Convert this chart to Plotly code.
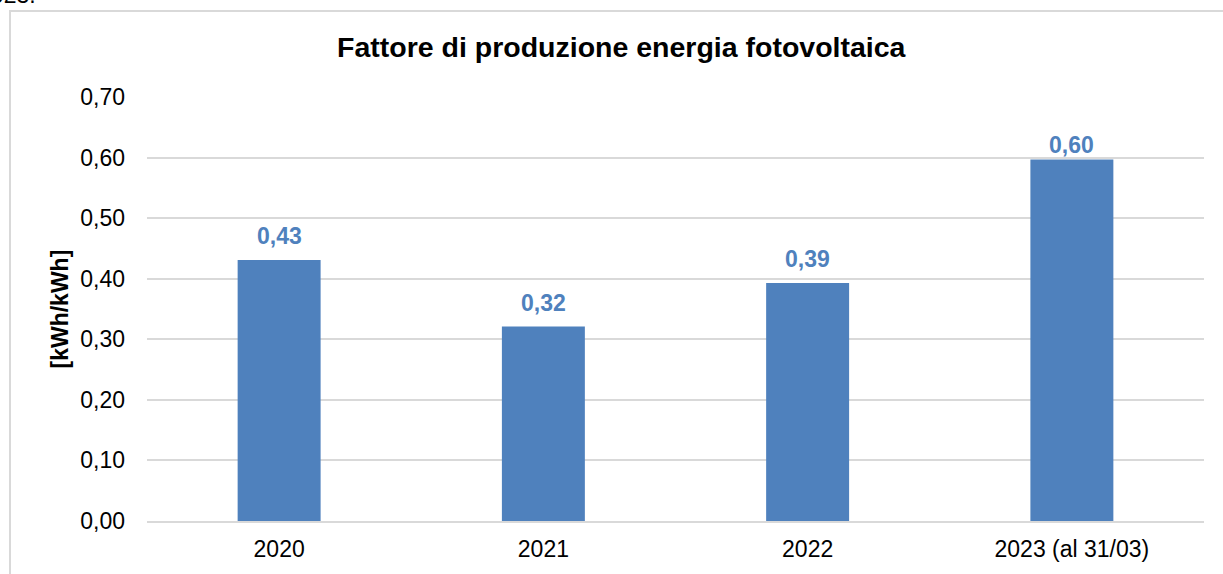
import plotly.graph_objects as go

categories = ["2020", "2021", "2022", "2023 (al 31/03)"]
values = [0.431, 0.321, 0.393, 0.597]
tick_vals = [0.0, 0.1, 0.2, 0.3, 0.4, 0.5, 0.6, 0.7]
tick_text = ["0,00", "0,10", "0,20", "0,30", "0,40", "0,50", "0,60", "0,70"]
title_text = "Fattore di produzione energia fotovoltaica"
y_title = "[kWh/kWh]"

BAR = "#4F81BD"
FONT = "Liberation Sans, Arial, sans-serif"
W, H = 1223, 574
L, R, T, B = 147, 19, 97, 53
pw, ph = W - L - R, H - T - B
YMAX = 0.7

def px_x(x):
    return (x - L) / pw

def px_y(y):
    return (H - B - y) / ph

fig = go.Figure()
fig.add_trace(go.Bar(x=categories, y=values, marker=dict(color=BAR, line=dict(width=0)),
                     hoverinfo="skip"))

annotations = []
for i, v in enumerate(values):
    bar_top = T + (YMAX - v) / YMAX * ph
    center = max(bar_top - 24, 145)
    annotations.append(dict(x=i, y=v, xref="x", yref="y", text=f"<b>{v:.2f}</b>".replace(".", ","),
                            showarrow=False, yanchor="middle", yshift=bar_top - center,
                            font=dict(family=FONT, size=23, color=BAR)))
annotations.append(dict(x=px_x(622), y=px_y(47), xref="paper", yref="paper",
                        text=f"<b>{title_text}</b>", showarrow=False, xanchor="center", yanchor="middle",
                        font=dict(family=FONT, size=28.5, color="#000000")))
annotations.append(dict(x=px_x(59.5), y=0.5, xref="paper", yref="paper", text=f"<b>{y_title}</b>",
                        textangle=-90, showarrow=False, xanchor="center", yanchor="middle",
                        font=dict(family=FONT, size=23, color="#000000")))
annotations.append(dict(x=px_x(38), y=px_y(10), xref="paper", yref="paper", text="023.",
                        showarrow=False, xanchor="right", yanchor="bottom",
                        font=dict(family=FONT, size=23, color="#000000")))

fig.update_layout(
    width=W, height=H,
    margin=dict(l=L, r=R, t=T, b=B, pad=0, autoexpand=False),
    paper_bgcolor="white", plot_bgcolor="white",
    bargap=0.686,
    showlegend=False,
    font=dict(family=FONT, size=23, color="#000000"),
    annotations=annotations,
    shapes=[dict(type="rect", xref="paper", yref="paper", x0=px_x(10), x1=px_x(1300),
                 y0=px_y(700), y1=px_y(11), line=dict(color="#D9D9D9", width=2), fillcolor="rgba(0,0,0,0)",
                 layer="below")],
    xaxis=dict(type="category", range=[-0.5, len(categories) - 0.5], showgrid=False, showline=True,
               linecolor="#D9D9D9", linewidth=2, ticks="",
               tickfont=dict(family=FONT, size=23, color="#000000"), ticklabelstandoff=6,
               zeroline=False, fixedrange=True, automargin=False),
    yaxis=dict(range=[0, YMAX], tickvals=tick_vals, ticktext=tick_text, showgrid=True,
               gridcolor="#D9D9D9", gridwidth=2, zeroline=False, showline=False, ticks="",
               tickfont=dict(family=FONT, size=23, color="#000000"), ticklabelstandoff=21,
               fixedrange=True, automargin=False),
)

fig.write_html("out.html", config={"displayModeBar": False},
               post_script="document.body.style.margin='0';")
